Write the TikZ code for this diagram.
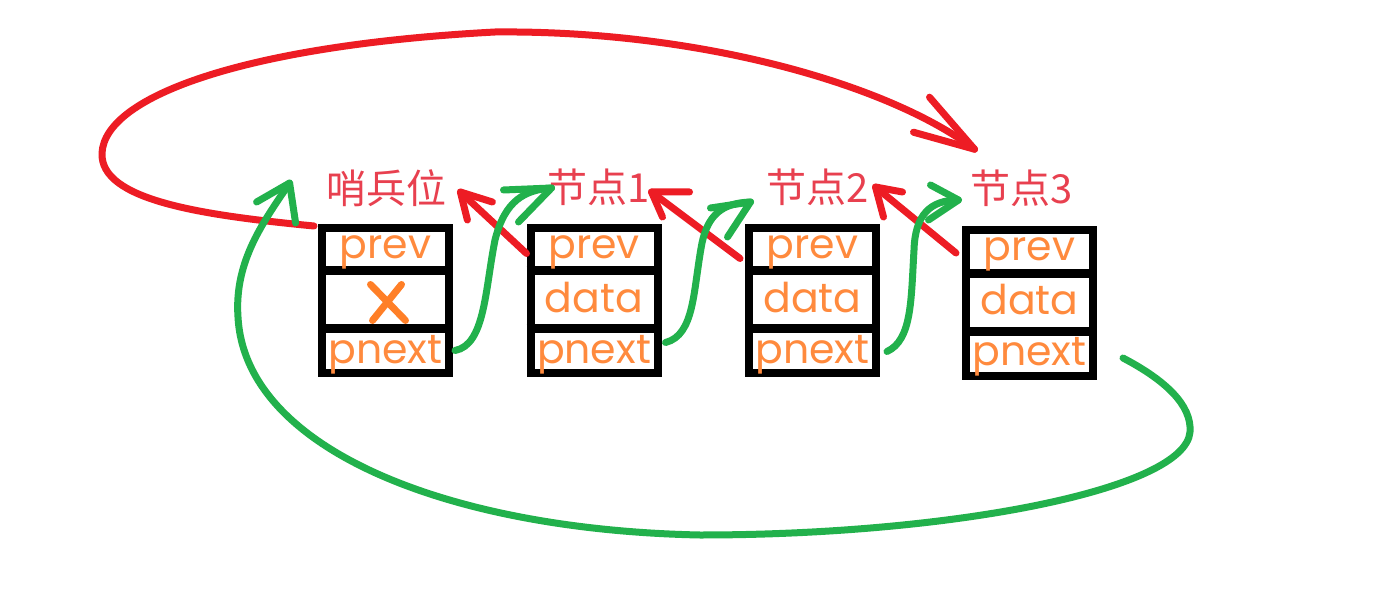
\documentclass[tikz,border=0pt]{standalone}
\usepackage{fontspec}
\newfontfamily\cjkfont{Noto Sans CJK SC}
\newfontfamily\geofont{Poppins}
\usetikzlibrary{calc}
\definecolor{pred}{HTML}{ED1C24}
\definecolor{pgreen}{HTML}{22B14C}
\definecolor{porange}{HTML}{FF7F27}
\definecolor{ptext}{HTML}{FF8A3D}
\definecolor{plabel}{HTML}{E8404F}
\begin{document}
\begin{tikzpicture}[x=0.5pt,y=-0.5pt,
  nodebox/.style={draw=black,line width=4pt,minimum width=63.5pt,minimum height=72.5pt,inner sep=0pt},
  divider/.style={black,line width=4.5pt},
  celltext/.style={anchor=base,text=ptext,font=\geofont\fontsize{20.5}{20.5}\selectfont,inner sep=0pt},
  tag/.style={text=plabel,font=\cjkfont\fontsize{20}{20}\selectfont,inner sep=0pt},
  redline/.style={pred,line width=3.5pt,line cap=round,line join=round},
  greenline/.style={pgreen,line width=3.5pt,line cap=round,line join=round},
]
\useasboundingbox[fill=white] (0,0) rectangle (1396,593);

% boxes
\node[nodebox] (b0) at (385.5,300.5) {};
\node[nodebox] (b1) at (594,300.5) {};
\node[nodebox] (b2) at (812.5,300.5) {};
\node[nodebox] (b3) at (1029.5,303) {};

\foreach \b in {b0,b1,b2,b3}{
  \draw[divider] ($(\b.north west)!0.307!(\b.south west)$) -- ($(\b.north east)!0.307!(\b.south east)$);
  \draw[divider] ($(\b.north west)!0.686!(\b.south west)$) -- ($(\b.north east)!0.686!(\b.south east)$);
  \node[celltext] at ($(\b.center)+(0,-42.5)$) {prev};
  \node[celltext] at ($(\b.center)+(0,62.5)$) {pnext};
}
\foreach \b in {b1,b2,b3}{
  \node[celltext] at ($(\b.center)+(0,11.5)$) {data};
}
% X in sentinel data cell
\draw[porange,line width=3.5pt,line cap=round] ($(b0.center)+(-15,-16)$) -- ($(b0.center)+(20,20)$);
\draw[porange,line width=3.5pt,line cap=round] ($(b0.center)+(16,-16)$) -- ($(b0.center)+(-13,20)$);

% labels
\node[tag] (l0) at (386,188) {哨兵位};
\node[tag] (l1) at (599,187) {节点1};
\node[tag] (l2) at (818,187) {节点2};
\node[tag] (l3) at (1022,188) {节点3};

% red prev arrows
\coordinate (r1s) at ($(b1.west)+(0,-47)$);
\coordinate (r1t) at ($(l0.east)+(14,4)$);
\draw[redline] (r1s) -- (r1t);
\draw[redline] ($(r1t)+(32,10)$) -- (r1t) -- ($(r1t)+(7,28)$);

\coordinate (r2s) at ($(b2.west)+(-5,-42)$);
\coordinate (r2t) at ($(l1.east)+(1,5)$);
\draw[redline] (r2s) -- (r2t);
\draw[redline] ($(r2t)+(38,0)$) -- (r2t) -- ($(r2t)+(11,25)$);

\coordinate (r3s) at ($(b3.west)+(-6,-50)$);
\coordinate (r3t) at ($(l2.east)+(6,0)$);
\draw[redline] (r3s) -- (r3t);
\draw[redline] ($(r3t)+(27,5)$) -- (r3t) -- ($(r3t)+(8,30)$);

% big red arrow: sentinel prev -> node 3
\coordinate (rbs) at ($(b0.north west)+(-4,2)$);
\coordinate (rbt) at ($(l3.north west)+(4,-20)$);
\draw[redline] (rbs) .. controls (200,215) and (100,200) .. (102,153)
  .. controls (105,95) and (250,45) .. (495,32)
  .. controls (700,30) and (890,85) .. (rbt);
\draw[redline] ($(rbt)+(-45,-52)$) -- (rbt) -- ($(rbt)+(-61,-17)$);

% green pnext arrows
\coordinate (g1s) at ($(b0.east)+(2,50)$);
\coordinate (g1t) at ($(l1.west)+(4,1)$);
\draw[greenline] (g1s) .. controls (485,345) and (485,290) .. (495,240)
  .. controls (505,200) and (525,190) .. (g1t);
\draw[greenline] ($(g1t)+(-48,2)$) -- (g1t) -- ($(g1t)+(-33,34)$);

\coordinate (g2s) at ($(b1.east)+(4,42)$);
\coordinate (g2t) at ($(l2.west)+(-16,15)$);
\draw[greenline] (g2s) .. controls (695,335) and (693,290) .. (702,243)
  .. controls (708,215) and (722,203) .. (g2t);
\draw[greenline] ($(g2t)+(-40,6)$) -- (g2t) -- ($(g2t)+(-23,35)$);

\coordinate (g3s) at ($(b2.east)+(7,51)$);
\coordinate (g3t) at ($(l3.west)+(-12,12)$);
\draw[greenline] (g3s) .. controls (912,340) and (911,300) .. (914,250)
  .. controls (915,215) and (930,200) .. (g3t);
\draw[greenline] ($(g3t)+(-28,-15)$) -- (g3t) -- ($(g3t)+(-30,20)$);

% big green arrow: node 3 pnext -> sentinel
\coordinate (gbs) at ($(b3.east)+(26,55)$);
\coordinate (gbt) at ($(l0.west)+(-36,-5)$);
\draw[greenline] (gbs) .. controls (1165,380) and (1192,405) .. (1190,432)
  .. controls (1185,490) and (950,535) .. (700,535)
  .. controls (450,530) and (245,450) .. (238,317)
  .. controls (234,260) and (265,220) .. (gbt);
\draw[greenline] ($(gbt)+(-33,19)$) -- (gbt) -- ($(gbt)+(6,40)$);
\end{tikzpicture}
\end{document}
